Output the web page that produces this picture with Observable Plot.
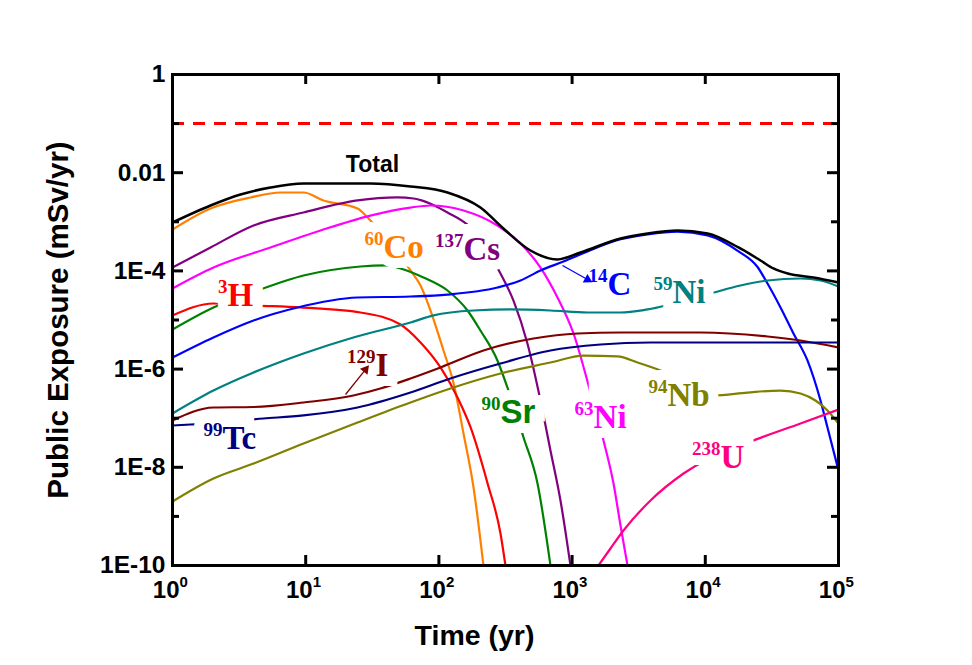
<!DOCTYPE html>
<html>
<head>
<meta charset="utf-8">
<script src="https://cdn.jsdelivr.net/npm/d3@7"></script>
<script src="https://cdn.jsdelivr.net/npm/@observablehq/plot@0.6"></script>
<style>
  body { margin: 0; background: #ffffff; }
  #chart svg { display: block; }
</style>
</head>
<body>
<div id="chart"></div>
<script>
// ---------- data (time in yr, public exposure in mSv/yr) ----------
const xTicks = [1, 10, 100, 1000, 10000, 100000];
const yTicks = [1, 0.01, 1e-4, 1e-6, 1e-8, 1e-10];
const yTickLabels = ["1", "0.01", "1E-4", "1E-6", "1E-8", "1E-10"];
const yMinorTicks = [0.1, 1e-3, 1e-5, 1e-7, 1e-9];
const doseLimit = [0.1];

const total = [[1,9.68e-4],[1.93,2.15e-3],[3.24,3.6e-3],[5.44,5.0e-3],[9.63,6.03e-3],[30.6,6.03e-3],[61.2,5.24e-3],[116,3.95e-3],[205,1.95e-3],[305,7.31e-4],[487,2.6e-4],[777,1.71e-4],[1157,2.37e-4],[2309,4.57e-4],[3681,5.78e-4],[6185,6.65e-4],[10400,5.78e-4],[17750,3.0e-4],[25960,1.63e-4],[32480,1.12e-4],[41560,8.85e-5],[64890,7.34e-5],[100000,5.81e-5]];
const co60 = [[1,6.97e-4],[1.93,1.87e-3],[3.85,3.13e-3],[6.47,3.95e-3],[9.63,3.95e-3],[13.6,2.72e-3],[24.5,1.87e-3],[30.6,1.06e-3],[61.2,1.02e-4],[72.8,5.04e-5],[86.5,1.56e-5],[108.3,2.39e-6],[129,5.09e-7],[153,4.88e-8],[182,3.88e-9],[216,1e-10]];
const cs137 = [[1,1.17e-4],[1.93,3.0e-4],[4.06,8.41e-4],[9.63,1.55e-3],[24.5,2.72e-3],[48.9,3.13e-3],[64.5,2.98e-3],[116,1.55e-3],[173,7.66e-4],[290,8.85e-5],[363,2.49e-5],[462,3.32e-6],[579,2.29e-7],[688,2.2e-8],[818,2.11e-9],[972,1e-10]];
const ni63 = [[1,4.38e-5],[2.03,1.17e-4],[5.44,3.0e-4],[12.9,6.65e-4],[30.6,1.34e-3],[61.2,1.95e-3],[86.5,2.15e-3],[153,1.7e-3],[275,8.41e-4],[410,3.61e-4],[579,1.17e-4],[777,2.87e-5],[1025,5.31e-6],[1375,3.33e-7],[1721,3.52e-8],[2046,4.68e-9],[2309,6.53e-10],[2606,1e-10]];
const sr90 = [[1,6.41e-6],[2.03,1.8e-5],[4.35,3.99e-5],[9.63,8.05e-5],[25.8,1.23e-4],[39.7,1.29e-4],[51.5,1.12e-4],[76.6,7.34e-5],[116,3.99e-5],[164,1.56e-5],[205,6.11e-6],[275,1.5e-6],[327,4.22e-7],[432,4.05e-8],[550,4.68e-9],[688,1e-10]];
const h3 = [[1,1.24e-5],[2.03,2.17e-5],[4.35,1.97e-5],[9.14,1.8e-5],[25.8,1.42e-5],[51.5,8.09e-6],[72.8,3.48e-6],[102.8,1.08e-6],[138,2.64e-7],[173,6.47e-8],[232,4.68e-9],[290,4.49e-10],[316,1e-10]];
const c14 = [[1,1.72e-6],[2.03,4.41e-6],[4.06,9.77e-6],[8.68,1.8e-5],[24.5,2.87e-5],[61.2,3.01e-5],[116,3.3e-5],[275,4.59e-5],[410,6.37e-5],[579,1.02e-4],[861,1.55e-4],[1305,2.5e-4],[2309,4.4e-4],[3681,5.55e-4],[6185,6.3e-4],[10400,5.3e-4],[17750,2.5e-4],[24660,1.2e-4],[29310,5.53e-5],[36700,1.8e-5],[45920,5.31e-6],[58470,1.5e-6],[73240,2.29e-7],[82660,6.47e-8],[100000,8.61e-9]];
const ni59 = [[1,1.25e-7],[2.03,3.66e-7],[4.06,8.53e-7],[9.63,2.08e-6],[22.8,4.41e-6],[61.2,8.89e-6],[91.1,1.24e-5],[182,1.56e-5],[345,1.64e-5],[688,1.56e-5],[1305,1.42e-5],[2309,1.42e-5],[3681,1.64e-5],[10940,3.47e-5],[18370,5.04e-5],[29310,6.37e-5],[51850,7.0e-5],[73240,6.37e-5],[100000,4.81e-5]];
const i129 = [[1,8.97e-8],[2.03,1.65e-7],[4.06,1.69e-7],[9.63,2.09e-7],[22.8,2.9e-7],[36.4,4.03e-7],[61.2,6.44e-7],[102.8,1.08e-6],[216,2.39e-6],[513,4.2e-6],[1099,5.31e-6],[2309,5.56e-6],[9200,5.56e-6],[29310,4.61e-6],[51850,3.82e-6],[100000,2.75e-6]];
const tc99 = [[1,7.1e-8],[1.365,7.44e-8],[4.82,9.86e-8],[9.63,1.14e-7],[24.5,1.65e-7],[61.2,3.33e-7],[122,6.44e-7],[290,1.3e-6],[688,2.39e-6],[1634,3.17e-6],[3878,3.48e-6],[21850,3.48e-6],[100000,3.48e-6]];
const nb94 = [[1,2.01e-9],[2.03,5.92e-9],[4.06,1.19e-8],[9.63,3.05e-8],[24.5,8.17e-8],[61.2,2.09e-7],[122,4.03e-7],[290,8.13e-7],[688,1.36e-6],[1218,1.89e-6],[2193,1.81e-6],[3098,1.36e-6],[4610,9.36e-7],[11530,2.9e-7],[20740,3.33e-7],[36700,3.66e-7],[51850,3.18e-7],[67160,2.29e-7],[82660,1.44e-7],[100000,7.8e-8]];
const u238 = [[1578,1e-10],[1941,2.22e-10],[2431,5.16e-10],[3878,2.11e-9],[6862,7.48e-9],[21100,3.2e-8],[51850,7.8e-8],[100000,1.5e-7]];

// label annotations: superscript, symbol, anchor (time, dose)
const labels = [
  {sup: "60",  sym: "Co", t: 38.4,  v: 1.79e-4, key: "co60"},
  {sup: "137", sym: "Cs", t: 153,   v: 1.63e-4, key: "cs137"},
  {sup: "3",   sym: "H",  t: 2.59,  v: 1.97e-5, key: "h3"},
  {sup: "14",  sym: "C",  t: 1845,  v: 3.16e-5, key: "c14"},
  {sup: "59",  sym: "Ni", t: 5675,  v: 2.17e-5, key: "ni59"},
  {sup: "129", sym: "I",  t: 33.4,  v: 7.07e-7, key: "i129"},
  {sup: "99",  sym: "Tc", t: 2.37,  v: 2.31e-8, key: "tc99"},
  {sup: "90",  sym: "Sr", t: 290,   v: 7.8e-8,  key: "sr90"},
  {sup: "63",  sym: "Ni", t: 1449,  v: 6.17e-8, key: "ni63"},
  {sup: "94",  sym: "Nb", t: 5200,  v: 1.81e-7, key: "nb94"},
  {sup: "238", sym: "U",  t: 13000, v: 9.9e-9,  key: "u238"}
];
const totalLabel = [{text: "Total", t: 31.7, v: 0.0101}];
const arrows = [
  {t1: 847, v1: 1.29e-4, t2: 1306, v2: 6.68e-5, key: "c14", angle: 119},
  {t1: 19.9, v1: 3.04e-7, t2: 28.1, v2: 9.8e-7, key: "i129", angle: 39}
];

// ---------- styles ----------
const colors = {
  total: "#000000", co60: "#FF8000", cs137: "#800080", ni63: "#FF00FF", sr90: "#008000",
  h3: "#FF0000", c14: "#0000FF", ni59: "#008080", i129: "#800000", tc99: "#000080",
  nb94: "#808000", u238: "#FF0080"
};
const series = {total, co60, cs137, ni63, sr90, h3, c14, ni59, i129, tc99, nb94, u238};
const sansKeys = ["sr90"];

const W = 972, H = 665, ML = 172, MR = 134, MT = 74, MB = 100;
const PW = W - ML - MR, PH = H - MT - MB;
const serif = "'Liberation Serif','Times New Roman',serif";
const sans = "'Liberation Sans',Arial,Helvetica,sans-serif";

const marks = [];
// series lines
for (const key of Object.keys(series)) {
  if (key === "total") continue;
  marks.push(Plot.line(series[key], {x: d => d[0], y: d => d[1], stroke: colors[key], strokeWidth: 2.2, curve: "monotone-x", clip: true}));
}
marks.push(Plot.line(total, {x: d => d[0], y: d => d[1], stroke: colors.total, strokeWidth: 2.5, curve: "monotone-x", clip: true}));

// label halos (white boxes that break the lines)
for (const l of labels) {
  const ff = sansKeys.includes(l.key) ? sans : serif;
  marks.push(Plot.text([l], {x: "t", y: "v", text: "sym", textAnchor: "start", lineAnchor: "bottom", fontFamily: ff, fontWeight: "bold", fontSize: 33, fill: "white", stroke: "white", strokeWidth: 20, strokeLinejoin: "miter"}));
  marks.push(Plot.text([l], {x: "t", y: "v", text: "sup", textAnchor: "end", lineAnchor: "bottom", dy: -13, fontFamily: serif, fontWeight: "bold", fontSize: 19, fill: "white", stroke: "white", strokeWidth: 20, strokeLinejoin: "miter"}));
}
// dose limit
marks.push(Plot.ruleY(doseLimit, {y: d => d, stroke: "#FF0000", strokeWidth: 3, strokeDasharray: "12,9"}));
// label texts
for (const l of labels) {
  const ff = sansKeys.includes(l.key) ? sans : serif;
  marks.push(Plot.text([l], {x: "t", y: "v", text: "sym", textAnchor: "start", lineAnchor: "bottom", fontFamily: ff, fontWeight: "bold", fontSize: 33, fill: colors[l.key]}));
  marks.push(Plot.text([l], {x: "t", y: "v", text: "sup", textAnchor: "end", lineAnchor: "bottom", dy: -13, fontFamily: serif, fontWeight: "bold", fontSize: 19, fill: colors[l.key]}));
}
marks.push(Plot.text(totalLabel, {x: "t", y: "v", text: "text", textAnchor: "middle", lineAnchor: "bottom", fontFamily: sans, fontWeight: "bold", fontSize: 23, fill: "black"}));
// arrows: thin shaft + filled triangular head
for (const a of arrows) {
  marks.push(Plot.link([a], {x1: "t1", y1: "v1", x2: "t2", y2: "v2", stroke: colors[a.key], strokeWidth: 1.3}));
  marks.push(Plot.dot([a], {x: "t2", y: "v2", symbol: "triangle", r: 3.6, fill: colors[a.key], stroke: "none", rotate: a.angle}));
}

// frame and inward ticks
marks.push(Plot.frame({stroke: "black", strokeWidth: 3}));
marks.push(Plot.tickY(yTicks, {y: d => d, insetRight: PW - 11, strokeWidth: 3}));
marks.push(Plot.tickY(yMinorTicks, {y: d => d, insetRight: PW - 7, strokeWidth: 3}));
marks.push(Plot.tickY(yTicks, {y: d => d, insetLeft: PW - 11, strokeWidth: 3}));
marks.push(Plot.tickY(yMinorTicks, {y: d => d, insetLeft: PW - 7, strokeWidth: 3}));
marks.push(Plot.tickX(xTicks, {x: d => d, insetTop: PH - 10, strokeWidth: 3}));
marks.push(Plot.tickX(xTicks, {x: d => d, insetBottom: PH - 10, strokeWidth: 3}));

// tick labels
marks.push(Plot.text(yTicks, {y: d => d, text: (d, i) => yTickLabels[i], frameAnchor: "left", textAnchor: "end", dx: -7, fontFamily: sans, fontWeight: "bold", fontSize: 24.5, fill: "black"}));
marks.push(Plot.text(xTicks, {x: d => d, text: () => "10", frameAnchor: "bottom", textAnchor: "end", lineAnchor: "bottom", dx: 7, dy: 32, fontFamily: sans, fontWeight: "bold", fontSize: 24, fill: "black"}));
marks.push(Plot.text(xTicks, {x: d => d, text: d => String(Math.round(Math.log10(d))), frameAnchor: "bottom", textAnchor: "start", lineAnchor: "bottom", dx: 7, dy: 21, fontFamily: sans, fontWeight: "bold", fontSize: 15, fill: "black"}));

// axis titles
marks.push(Plot.text(["Time (yr)"], {frameAnchor: "bottom", textAnchor: "middle", lineAnchor: "bottom", dx: -31, dy: 79, fontFamily: sans, fontWeight: "bold", fontSize: 28.5, fill: "black"}));
marks.push(Plot.text(["Public Exposure (mSv/yr)"], {frameAnchor: "left", rotate: -90, textAnchor: "middle", dx: -114, fontFamily: sans, fontWeight: "bold", fontSize: 29.5, fill: "black"}));

const chart = Plot.plot({
  width: W, height: H,
  marginLeft: ML, marginRight: MR, marginTop: MT, marginBottom: MB,
  style: {background: "white", overflow: "visible"},
  x: {type: "log", domain: [1, 1e5], axis: null},
  y: {type: "log", domain: [1e-10, 1], axis: null},
  marks
});
document.getElementById("chart").append(chart);
</script>
</body>
</html>
